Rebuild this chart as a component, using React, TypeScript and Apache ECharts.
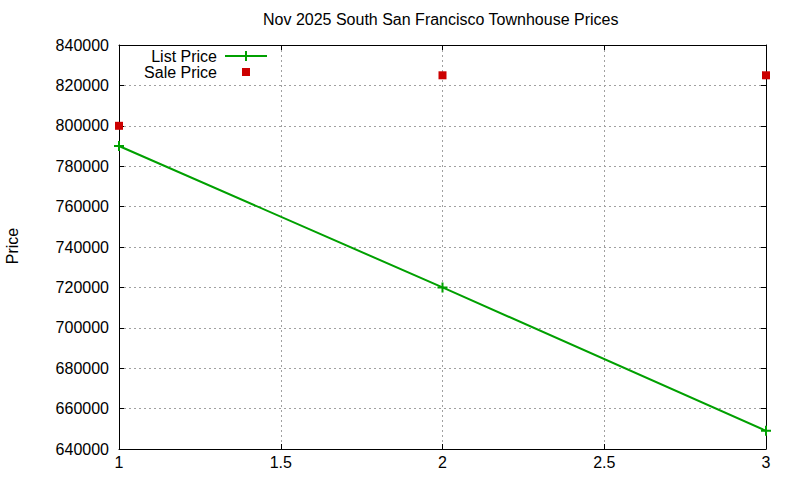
import React, { useEffect, useRef } from "react";
import * as echarts from "echarts";

const titleText = "Nov 2025 South San Francisco Townhouse Prices";
const yAxisName = "Price";
const xValues = [1, 2, 3];
const listPrices = [790000, 720000, 649000];
const salePrices = [800000, 825000, 825000];
const seriesNames = ["List Price", "Sale Price"];

const GREEN = "#00a000";
const RED = "#cc0000";
const FONT = "Liberation Sans, Arial, sans-serif";

const plusSymbol = "path://M0,4h10v2h-10Z M4,0h2v10h-2Z";
const listLegendIcon = "path://M0,5L0.01,5Z M3,4h42v2h-42Z M23,0h2v10h-2Z";
const saleLegendIcon = "path://M0,0L0.01,0Z M20,1h8v8h-8Z M45,10L45.01,10Z";

export default function App() {
  const ref = useRef<HTMLDivElement>(null);
  useEffect(() => {
    if (!ref.current) return;
    const chart = echarts.init(ref.current, undefined, { renderer: "svg" });
    const axisCommon = {
      type: "value" as const,
      axisLine: { show: true, lineStyle: { color: "#000", width: 1 } },
      axisTick: { show: true, inside: true, length: 5, lineStyle: { color: "#000" } },
    };
    const xMain = {
      ...axisCommon,
      min: 1,
      max: 3,
      interval: 0.5,
      position: "bottom" as const,
      axisLabel: { show: true, color: "#000", fontSize: 16, fontFamily: FONT, margin: 5 },
      splitLine: { show: true, lineStyle: { color: "#a0a0a0", type: [2, 3], width: 1 } },
    };
    const yMain = {
      ...axisCommon,
      min: 640000,
      max: 840000,
      interval: 20000,
      position: "left" as const,
      axisLabel: {
        show: true,
        color: "#000",
        fontSize: 16,
        fontFamily: FONT,
        margin: 10,
        formatter: (v: number) => String(v),
      },
      splitLine: { show: true, lineStyle: { color: "#a0a0a0", type: [2, 3], width: 1 } },
    };
    chart.setOption({
      animation: false,
      backgroundColor: "#fff",
      title: {
        text: titleText,
        left: 263,
        top: 11,
        padding: 0,
        textStyle: { fontSize: 16, fontWeight: "normal", color: "#000", fontFamily: FONT },
      },
      grid: { left: 119, right: 34, top: 45, bottom: 31 },
      legend: {
        orient: "vertical",
        align: "right",
        right: 533,
        top: 48,
        padding: 0,
        itemWidth: 45,
        itemHeight: 10,
        itemGap: 0,
        textStyle: { fontSize: 16, color: "#000", fontFamily: FONT },
        data: [
          { name: seriesNames[0], icon: listLegendIcon },
          { name: seriesNames[1], icon: saleLegendIcon },
        ],
      },
      xAxis: [
        xMain,
        {
          ...axisCommon,
          min: 1,
          max: 3,
          interval: 0.5,
          position: "top",
          axisLabel: { show: false },
          splitLine: { show: false },
        },
      ],
      yAxis: [
        yMain,
        {
          ...axisCommon,
          min: 640000,
          max: 840000,
          interval: 20000,
          position: "right",
          axisLabel: { show: false },
          splitLine: { show: false },
        },
      ],
      graphic: [
        {
          type: "text",
          x: 12,
          y: 246,
          rotation: Math.PI / 2,
          style: {
            text: yAxisName,
            fontSize: 16,
            fontFamily: FONT,
            fill: "#000",
            align: "center",
            verticalAlign: "middle",
          },
        },
      ],
      series: [
        {
          name: seriesNames[0],
          type: "line",
          data: xValues.map((x, i) => [x, listPrices[i]]),
          symbol: plusSymbol,
          symbolSize: 10,
          showSymbol: true,
          clip: false,
          lineStyle: { color: GREEN, width: 2 },
          itemStyle: { color: GREEN, opacity: 1 },
          z: 3,
        },
        {
          name: seriesNames[1],
          type: "scatter",
          data: xValues.map((x, i) => [x, salePrices[i]]),
          symbol: "rect",
          symbolSize: 8,
          clip: false,
          itemStyle: { color: RED, opacity: 1 },
          z: 4,
        },
      ],
    });
    return () => chart.dispose();
  }, []);
  return (
    <div
      ref={ref}
      style={{ position: "fixed", left: 0, top: 0, width: 800, height: 480 }}
    />
  );
}
